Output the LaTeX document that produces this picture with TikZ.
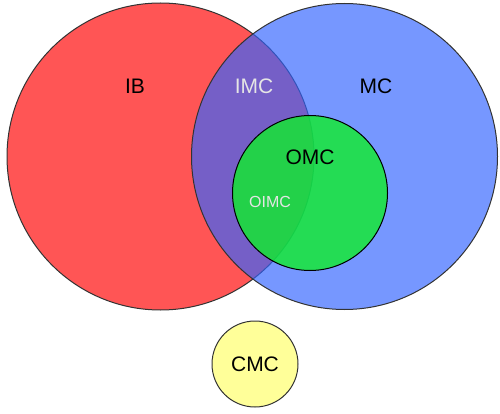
\documentclass[tikz,border=0pt]{standalone}
\usepackage{fontspec}
\setmainfont{Liberation Sans}
\definecolor{redfill}{RGB}{255,85,85}
\definecolor{bluefill}{RGB}{50,100,255}
\definecolor{greenfill}{RGB}{15,238,42}
\definecolor{yellowfill}{RGB}{255,255,153}
\tikzset{
  setc/.style={circle, draw=black!80, line width=1pt, inner sep=0pt},
  lbl/.style={font=\fontsize{21}{21}\selectfont, inner sep=0pt},
  lblsmall/.style={font=\fontsize{16}{16}\selectfont, inner sep=0pt}
}
\begin{document}
\begin{tikzpicture}[x=1pt,y=-1pt]
\useasboundingbox (0,0) rectangle (500,414);
\node[setc, fill=redfill, minimum size=307pt] (ib) at (160.5,156.5) {};
\node[setc, fill=bluefill, fill opacity=0.67, minimum size=306pt] (mc) at (344.5,156.5) {};
\node[setc, draw=black, fill=greenfill, fill opacity=0.8, minimum size=155pt] (omc) at (310,193) {};
\node[setc, fill=yellowfill, minimum size=86pt] (cmc) at (255,364) {};
\node[lbl] (ibl) at (135,86) {IB};
\node[lbl, text=white!90!black] (imcl) at (254,86) {IMC};
\node[lbl] (mcl) at (376,86) {MC};
\node[lbl] (omcl) at (310,157) {OMC};
\node[lblsmall, text=white!90!black] (oimcl) at (270,202) {OIMC};
\node[lbl] (cmcl) at (cmc) {CMC};
\end{tikzpicture}
\end{document}
